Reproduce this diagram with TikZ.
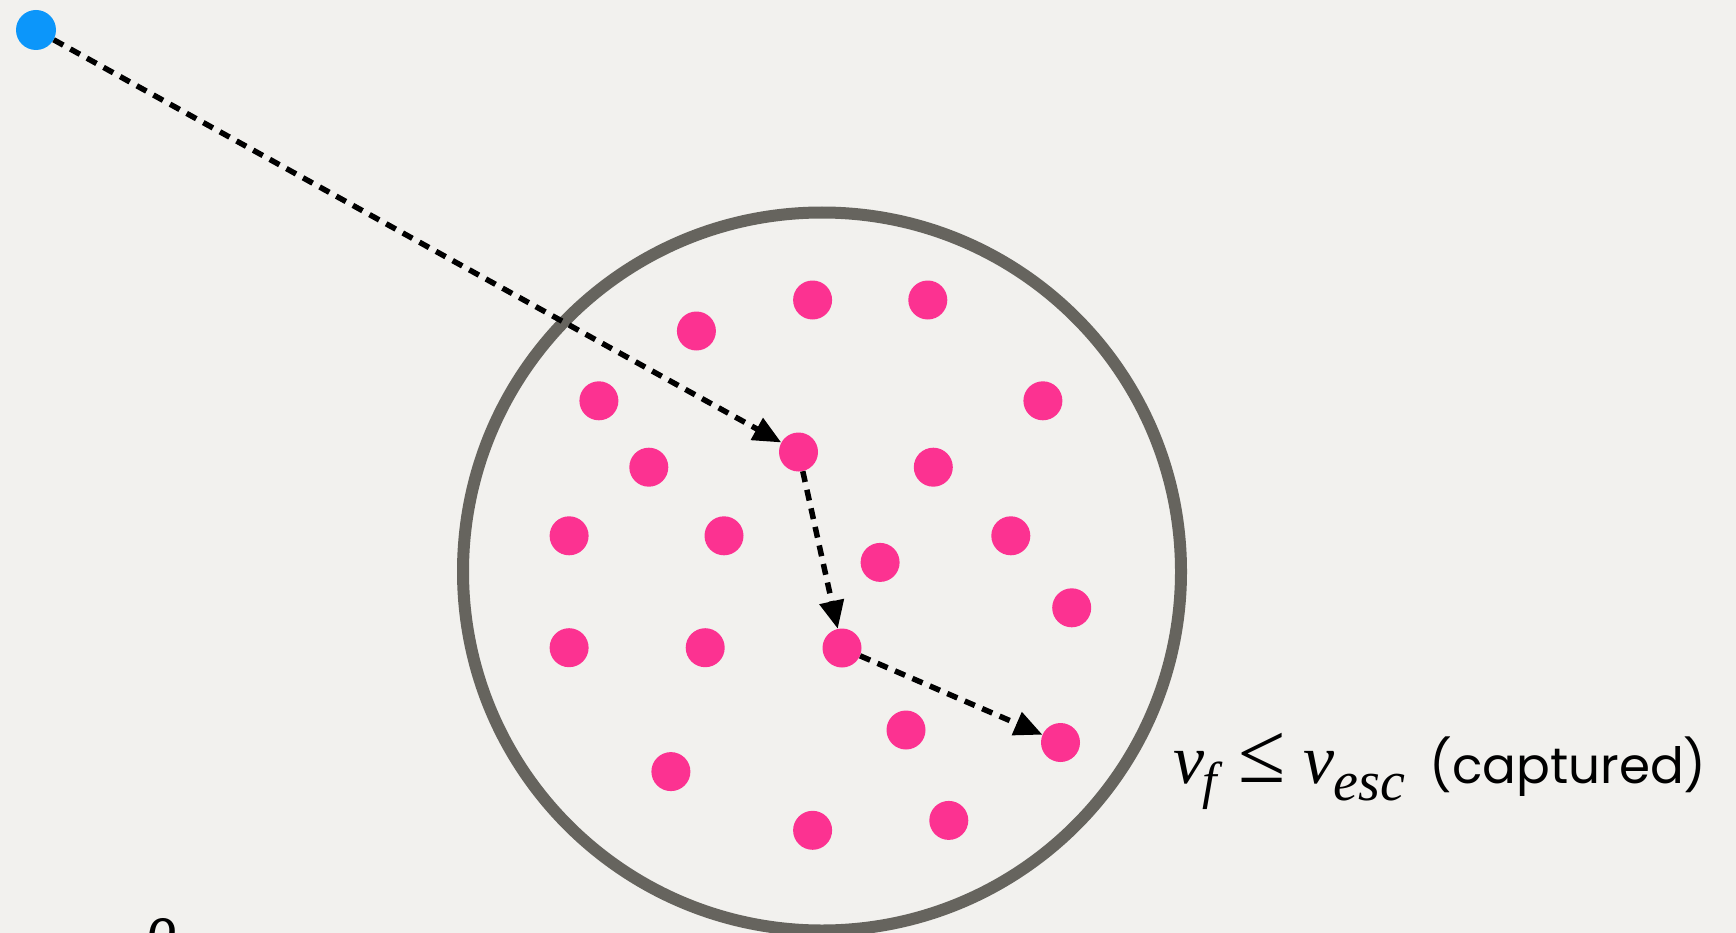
\documentclass[tikz,border=0pt]{standalone}
\usepackage{fontspec}
\setmainfont{Liberation Serif}
\newfontfamily\comicfont{Poppins}
\usetikzlibrary{arrows.meta}
\definecolor{paper}{RGB}{242,241,238}
\definecolor{dotpink}{RGB}{252,50,145}
\definecolor{dotblue}{RGB}{12,150,250}
\definecolor{ringgray}{RGB}{102,100,94}
\tikzset{
  pdot/.style={circle, fill=dotpink, minimum size=39pt, inner sep=0pt},
  bdot/.style={circle, fill=dotblue, minimum size=40pt, inner sep=0pt},
  ring/.style={circle, draw=ringgray, line width=12pt, minimum size=718pt, inner sep=0pt},
  conn/.style={draw=black, line width=5.5pt, dash pattern=on 11pt off 8pt,
    -{Triangle[length=28pt,width=24pt]}},
  lbl/.style={anchor=base west, inner sep=0pt}
}
\begin{document}
\begin{tikzpicture}[x=1pt,y=-1pt]
\useasboundingbox (0,0) rectangle (1736,933);
\clip (0,0) rectangle (1736,933);
\fill[paper] (0,0) rectangle (1736,933);
\node[ring] (ring) at (822,571.5) {};
\node[bdot] (b) at (36,30) {};
\node[pdot] (p1) at (812.6,300) {};
\node[pdot] (p2) at (927.8,300) {};
\node[pdot] (p3) at (696.4,331) {};
\node[pdot] (p4) at (598.9,400.8) {};
\node[pdot] (p5) at (1042.9,400.8) {};
\node[pdot] (p6) at (798.5,452) {};
\node[pdot] (p7) at (648.8,467.2) {};
\node[pdot] (p8) at (933.3,467.2) {};
\node[pdot] (p9) at (569.1,535.8) {};
\node[pdot] (p10) at (724,535.8) {};
\node[pdot] (p11) at (1010.8,535.8) {};
\node[pdot] (p12) at (880.1,562.4) {};
\node[pdot] (p13) at (1071.7,607.8) {};
\node[pdot] (p14) at (569.1,647.7) {};
\node[pdot] (p15) at (705.2,647.7) {};
\node[pdot] (p16) at (842,648) {};
\node[pdot] (p17) at (906,730) {};
\node[pdot] (p18) at (1060.5,742.5) {};
\node[pdot] (p19) at (670.9,771.6) {};
\node[pdot] (p20) at (812.6,830.3) {};
\node[pdot] (p21) at (948.8,820.4) {};
\draw[conn] (b) -- (p6);
\draw[conn] (p6) -- (p16);
\draw[conn] (p16) -- (p18);
\node[lbl] (cap) at (1173,783) {\fontsize{70}{76}\selectfont\textit{v}\kern-2pt\raisebox{-15pt}{\fontsize{52}{58}\selectfont\textit{f}}\hspace{16pt}\raisebox{1pt}{\fontsize{86}{90}\selectfont ≤}\hspace{18pt}\textit{v}\kern-1pt\raisebox{-17pt}{\fontsize{56}{62}\selectfont\textit{esc}}\hspace{24pt}{\comicfont\fontsize{50}{58}\selectfont (captured)}};
\node[lbl] (rho) at (146,948) {\fontsize{64}{70}\selectfont\textit{ρ}};
\end{tikzpicture}
\end{document}
